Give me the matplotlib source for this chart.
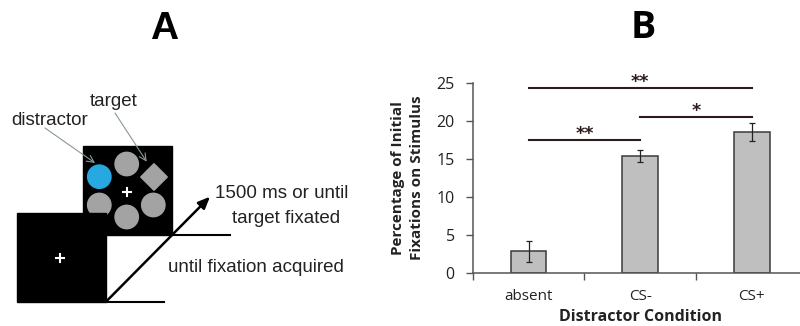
import matplotlib
matplotlib.use('Agg')
import matplotlib.pyplot as plt
from matplotlib.patches import Rectangle, Circle, Polygon

# panel B data
conditions = ['absent', 'CS-', 'CS+']
means = [2.9, 15.4, 18.5]
errors = [1.4, 0.8, 1.15]
yticks = [0, 5, 10, 15, 20, 25]

# significance brackets: (from, to), height, label
sig_pairs = [(0, 2), (1, 2), (0, 1)]
sig_heights = [24.3, 20.5, 17.5]
sig_labels = ['**', '*', '**']

W, H = 800, 326
fig = plt.figure(figsize=(W / 100, H / 100), dpi=100)

# ---- panel A: task diagram in pixel coordinates ----
axA = fig.add_axes([0, 0, 1, 1])
axA.set_xlim(0, W)
axA.set_ylim(H, 0)
axA.axis('off')

arial = 'Liberation Sans'
txtc = '#222222'

axA.text(164, 39.3, 'A', family=arial, weight='bold', fontsize=28, ha='center', va='baseline')

# search display (second screen)
axA.add_patch(Rectangle((82.7, 145.7), 89, 89.3, color='black', zorder=1))
gray = '#a3a3a3'
axA.add_patch(Circle((99.3, 176.7), 11.7, color='#27a8e0', zorder=2))
for cx, cy in [(126.7, 164), (99.3, 205), (153.3, 205), (126.7, 217)]:
    axA.add_patch(Circle((cx, cy), 11.7, color=gray, zorder=2))
dx, dy, r = 154, 177, 13.3
axA.add_patch(Polygon([(dx, dy - r), (dx + r, dy), (dx, dy + r), (dx - r, dy)], color=gray, zorder=2))
axA.plot([122.7, 130.7], [191.5, 191.5], color='white', lw=1.5, zorder=3)
axA.plot([126.7, 126.7], [187.5, 195.5], color='white', lw=1.5, zorder=3)

# fixation screen (first screen)
axA.add_patch(Rectangle((16.7, 212.7), 89.3, 89, color='black', zorder=4))
axA.plot([56, 64], [258.3, 258.3], color='white', lw=1.5, zorder=5)
axA.plot([60, 60], [254.3, 262.3], color='white', lw=1.5, zorder=5)

# timeline
axA.plot([171.7, 230], [235, 235], color='black', lw=1.5, zorder=5)
axA.plot([106, 164], [301.7, 301.7], color='black', lw=1.5, zorder=5)
axA.annotate('', xy=(210, 196.7), xytext=(106, 301.7),
             arrowprops=dict(arrowstyle='-|>,head_length=0.7,head_width=0.3', color='black', lw=1.8,
                             shrinkA=0, shrinkB=0), zorder=6)

# labels with pointers
ptr = dict(arrowstyle='->,head_length=0.5,head_width=0.25', color='#8a9898', lw=0.8, shrinkA=0, shrinkB=0)
axA.annotate('', xy=(95, 163), xytext=(45, 128), arrowprops=ptr, zorder=6)
axA.annotate('', xy=(146.7, 161.7), xytext=(115, 113), arrowprops=ptr, zorder=6)
fs = 13.5
axA.text(11, 125, 'distractor', family=arial, fontsize=fs, color=txtc, va='baseline')
axA.text(90, 106, 'target', family=arial, fontsize=fs, color=txtc, va='baseline')
axA.text(215, 198.3, '1500 ms or until', family=arial, fontsize=fs, color=txtc, va='baseline')
axA.text(231.7, 223.3, 'target fixated', family=arial, fontsize=fs, color=txtc, va='baseline')
axA.text(168.3, 272, 'until fixation acquired', family=arial, fontsize=fs, color=txtc, va='baseline')

# ---- panel B: bar chart ----
sans = 'Open Sans'
fig.text(643 / W, 1 - 38.3 / H, 'B', family=sans, weight='bold', fontsize=27, ha='center', va='baseline')

ax = fig.add_axes([472.7 / W, 52.7 / H, 335 / W, 190.6 / H])
ax.patch.set_alpha(0)
x = list(range(len(conditions)))
ax.bar(x, means, width=0.32, color='#bfbfbf', edgecolor='#3a3a3a', linewidth=1.1, zorder=2)
ax.errorbar(x, means, yerr=errors, fmt='none', ecolor='#222222', elinewidth=0.9, capsize=2.5,
            capthick=0.9, zorder=3)

sigc = '#2e1c1c'
for (a, b), h, lab in zip(sig_pairs, sig_heights, sig_labels):
    ax.plot([a, b], [h, h], color=sigc, lw=1.5, clip_on=False, zorder=3)
    ax.text((a + b) / 2, h + 0.8, lab, ha='center', va='center', fontsize=12.5, weight='bold',
            color=sigc, family='DejaVu Sans', clip_on=False)

ax.set_xlim(-0.5, 2.5)
ax.set_ylim(0, 25)
ax.set_yticks(yticks)
ax.set_xticks([-0.5, 0.5, 1.5, 2.5])
ax.set_xticklabels([])
ax.set_xticks(x, minor=True)
ax.set_xticklabels(conditions, minor=True, family=sans, fontsize=11, color=txtc)
ax.tick_params(axis='x', which='minor', length=0, pad=11)
ax.tick_params(axis='x', which='major', length=5, width=1, color='#555555')
ax.tick_params(axis='y', length=5, width=1, color='#555555', pad=8, labelsize=11.5, labelcolor=txtc)
for t in ax.get_yticklabels():
    t.set_family(sans)
for s in ['top', 'right']:
    ax.spines[s].set_visible(False)
for s in ['left', 'bottom']:
    ax.spines[s].set_color('#555555')
    ax.spines[s].set_linewidth(1.1)

ax.set_xlabel('Distractor Condition', family=sans, weight='bold', fontsize=11.5, color=txtc, labelpad=4)
ax.set_ylabel('Percentage of Initial\nFixations on Stimulus', family=sans, weight='bold', fontsize=11,
              color=txtc, linespacing=1.45, labelpad=9)

fig.savefig('out.png', dpi=100, facecolor='white')
